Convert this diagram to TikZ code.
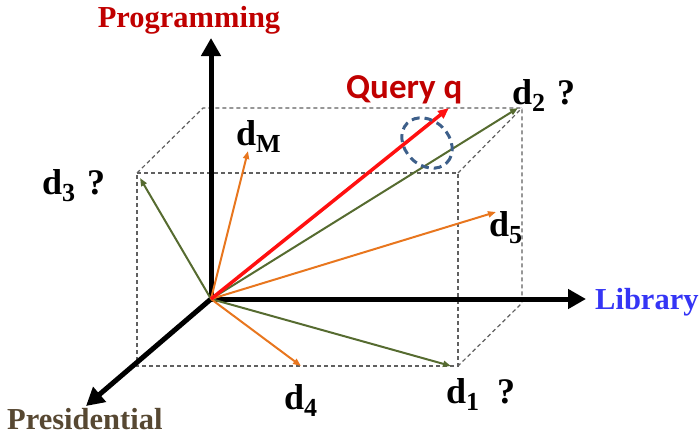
\documentclass[tikz,border=0pt]{standalone}
\usepackage{fontspec}
\setmainfont{Liberation Serif}
\newfontfamily\calib{Carlito}
\usetikzlibrary{arrows.meta}
\definecolor{progred}{HTML}{C00000}
\definecolor{qred}{HTML}{FF1010}
\definecolor{vgreen}{HTML}{566B30}
\definecolor{vorange}{HTML}{E8761E}
\definecolor{libblue}{HTML}{3535F5}
\definecolor{presbrown}{HTML}{574832}
\definecolor{ellblue}{HTML}{3D5F8A}
\definecolor{boxgray}{HTML}{606060}
\tikzset{
  axis/.style={line width=5pt,-{Triangle[length=18pt,width=19pt]}},
  boxline/.style={boxgray,line width=1.2pt,dash pattern=on 4pt off 3pt},
  gvec/.style={vgreen,line width=2pt,-{Triangle[length=8pt,width=6pt]}},
  ovec/.style={vorange,line width=2pt,-{Triangle[length=8pt,width=6pt]}},
  qvec/.style={qred,line width=3.5pt,-{Triangle[length=11pt,width=9pt]}},
  axlabel/.style={font=\fontsize{30.5}{32}\selectfont\bfseries,inner sep=0pt},
  dlabel/.style={font=\fontsize{36}{38}\selectfont\bfseries,inner sep=0pt,anchor=base west},
}
\newcommand{\dsub}[1]{\raisebox{-7pt}{\fontsize{26}{27}\selectfont\bfseries #1}}
\begin{document}
\begin{tikzpicture}[x=1pt,y=-1pt]
\useasboundingbox (0,0) rectangle (700,436);
% box
\coordinate (FTL) at (137,173);
\coordinate (FTR) at (458,173);
\coordinate (FBR) at (458,366);
\coordinate (FBL) at (137,366);
\coordinate (BTL) at (203,108);
\coordinate (BTR) at (522,108);
\coordinate (BBR) at (522,303);
\draw[boxline] (FTL) -- (FTR) -- (FBR) -- (FBL) -- cycle;
\draw[boxline] (FTL) -- (BTL) -- (BTR) -- (BBR) -- (FBR);
\draw[boxline] (FTR) -- (BTR);
% axes
\coordinate (O) at (211,299);
\coordinate (Ptip) at (211,38);
\coordinate (Ltip) at (586,299);
\coordinate (Rtip) at (86,406);
\draw[axis] (O) -- (Ptip);
\draw[axis] (O) -- (Ltip);
\draw[axis] (O) -- (Rtip);
% vectors
\coordinate (d1t) at (451,366);
\coordinate (d2t) at (518,108);
\coordinate (d3t) at (140,178);
\coordinate (d4t) at (301,366);
\coordinate (d5t) at (496,212);
\coordinate (dMt) at (248,151);
\coordinate (qt) at (449,108);
\draw[gvec] (O) -- (d3t);
\draw[gvec] (O) -- (d2t);
\draw[gvec] (O) -- (d1t);
\draw[ovec] (O) -- (dMt);
\draw[ovec] (O) -- (d5t);
\draw[ovec] (O) -- (d4t);
\draw[qvec] (O) -- (qt);
% dashed ellipse
\draw[ellblue,line width=3pt,dash pattern=on 8pt off 5pt,rotate around={-45:(427,143)}]
  (427,143) ellipse [x radius=28pt, y radius=22pt];
% labels
\node[axlabel,text=progred,anchor=base] (prog) at (189,28) {Programming};
\node[axlabel,text=libblue,anchor=base west] (lib) at (595,309) {Library};
\node[axlabel,text=presbrown,anchor=base west] (pres) at (7,429) {Presidential};
\node[font=\calib\fontsize{35}{37}\selectfont\bfseries,text=progred,inner sep=0pt,anchor=base west] (qlab) at (346,98) {Query q};
\node[dlabel] (l2) at (512,104) {d\dsub{2}\,\,?};
\node[dlabel] (l3) at (42,194) {d\dsub{3}\,\,?};
\node[dlabel] (lM) at (236,145) {d\dsub{M}};
\node[dlabel] (l5) at (489,236) {d\dsub{5}};
\node[dlabel] (l4) at (284,409) {d\dsub{4}};
\node[dlabel] (l1) at (446,403) {d\dsub{1}\,\,\,?};
\end{tikzpicture}
\end{document}
